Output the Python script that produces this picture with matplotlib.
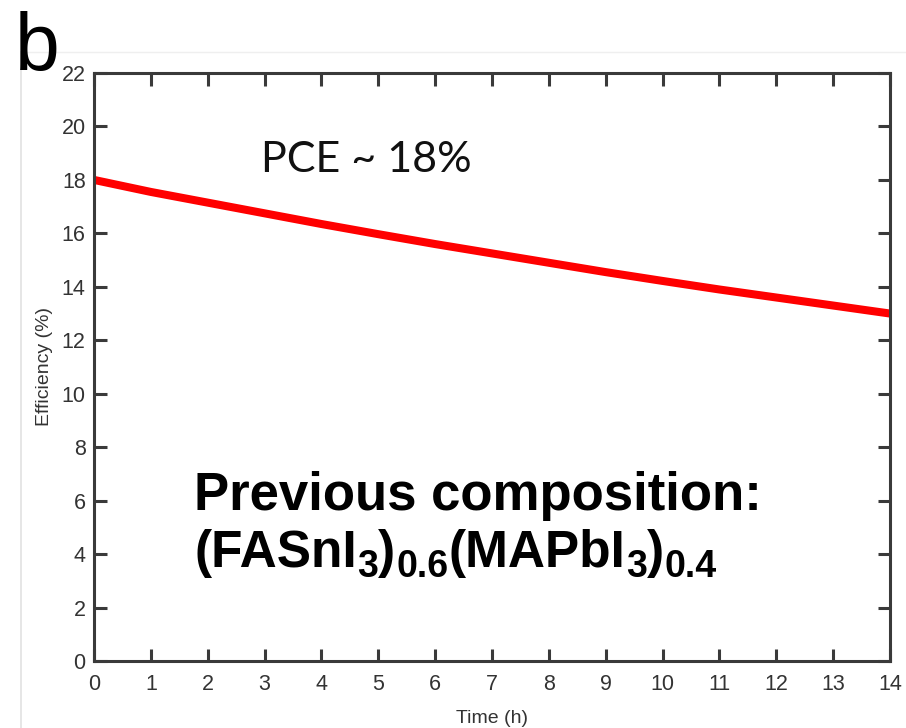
import matplotlib
matplotlib.use("Agg")
import matplotlib.pyplot as plt
from matplotlib.lines import Line2D

time_h = [0, 1, 2, 3, 4, 5, 6, 7, 8, 9, 10, 11, 12, 13, 14]
efficiency = [18.0, 17.55, 17.15, 16.75, 16.35, 15.97, 15.6, 15.25, 14.9,
              14.55, 14.22, 13.9, 13.6, 13.3, 13.0]
x_ticks = list(range(0, 15))
y_ticks = list(range(0, 23, 2))
formula_pieces = [("(FASnI", False), ("3", True), (")", False), ("0.6", True),
                  ("(MAPbI", False), ("3", True), (")", False), ("0.4", True)]

fig = plt.figure(figsize=(9.06, 7.28), dpi=100)
ax = fig.add_axes([94/906, 1-661/728, (890-94)/906, (661-73)/728])

ax.plot(time_h, efficiency, color='#ff0000', lw=5.8, solid_capstyle='round')

ax.set_xlim(0, 14)
ax.set_ylim(0, 22)
ax.set_xticks(x_ticks)
ax.set_yticks(y_ticks)
tick_color = '#3a3a3a'
ax.tick_params(direction='in', length=9, width=2.2, color=tick_color,
               top=True, right=True, labelsize=15.5, labelcolor='#333333')
ax.tick_params(axis='x', pad=9)
ax.tick_params(axis='y', pad=6)
for lab in ax.get_xticklabels() + ax.get_yticklabels():
    lab.set_family('Liberation Sans')
for s in ax.spines.values():
    s.set_linewidth(2.2)
    s.set_color(tick_color)

ax.set_xlabel('Time (h)', family='Liberation Sans', fontsize=14,
              color='#333333', labelpad=11)
ax.set_ylabel('Efficiency (%)', family='Liberation Sans', fontsize=14,
              color='#333333', labelpad=6)

ax.text(2.94, 18.3, 'PCE ~ 18%', family='Lato', fontsize=31,
        ha='left', va='baseline', color='#111111')
ax.text(1.76, 5.65, 'Previous composition:', family='Liberation Sans',
        fontweight='bold', fontsize=38, ha='left', va='baseline', color='black')

# formula with subscripts, pieces chained left to right
main_fs = 37
sub_fs = 27
y_base = 3.52
prev = None
for txt, is_sub in formula_pieces:
    kw = dict(family='Liberation Sans', fontweight='bold', color='black',
              ha='left', va='baseline',
              fontsize=sub_fs if is_sub else main_fs)
    if prev is None:
        prev = ax.text(1.76, y_base, txt, **kw)
    else:
        prev = ax.annotate(txt, xy=(1, y_base), xycoords=(prev, 'data'),
                           xytext=(0.5 if is_sub else 0, -7 if is_sub else 0),
                           textcoords='offset points', annotation_clip=False,
                           **kw)

fig.text(15/906, 1-70/728, 'b', family='Liberation Sans', fontsize=58,
         ha='left', va='baseline', color='black')

# faint frame lines from the original figure panel
fig.add_artist(Line2D([21/906, 21/906], [0, 1-52/728], color='#e2e2e2', lw=1.2))
fig.add_artist(Line2D([21/906, 1], [1-52/728, 1-52/728], color='#efefef', lw=1.0))

fig.savefig('out.png', dpi=100, facecolor='white')
